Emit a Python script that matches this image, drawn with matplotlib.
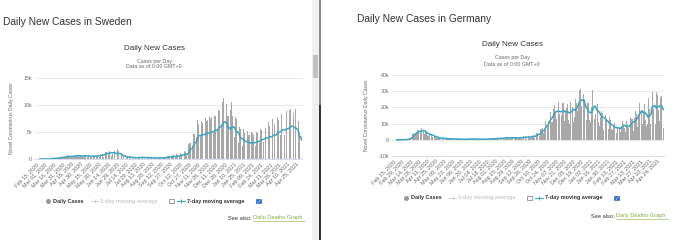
import numpy as np
import pandas as pd
import matplotlib
matplotlib.use("Agg")
import matplotlib.pyplot as plt
from matplotlib.patches import Rectangle
from matplotlib.lines import Line2D

plt.rcParams['font.family'] = ['Liberation Sans', 'DejaVu Sans']

W, H = 700, 240
start_date = "2020-02-15"

# Daily new cases (thousands), one row per week, Sat..Fri, from Feb 15, 2020
sweden_weeks = [
    [0, 0, 0, 0, 0, 0, 0],
    [0, 0, 0, 0, 0, 0, 0],
    [0, 0, 0, 0, 0.01, 0.02, 0.03],
    [0.02, 0.03, 0.05, 0.09, 0.12, 0.15, 0.16],
    [0.1, 0.1, 0.1, 0.14, 0.11, 0.15, 0.19],
    [0.12, 0.16, 0.2, 0.24, 0.3, 0.26, 0.35],
    [0.23, 0.3, 0.29, 0.34, 0.45, 0.5, 0.41],
    [0.33, 0.39, 0.33, 0.38, 0.72, 0.62, 0.51],
    [0.35, 0.45, 0.33, 0.47, 0.6, 0.6, 0.68],
    [0.55, 0.4, 0.4, 0.55, 0.75, 0.8, 0.75],
    [0.5, 0.4, 0.46, 0.62, 0.7, 0.68, 0.68],
    [0.55, 0.35, 0.38, 0.7, 0.73, 0.75, 0.65],
    [0.5, 0.3, 0.42, 0.67, 0.68, 0.55, 0.62],
    [0.45, 0.3, 0.3, 0.6, 0.7, 0.7, 0.62],
    [0.5, 0.3, 0.35, 0.5, 0.75, 0.82, 0.8],
    [0.5, 0.35, 0.4, 0.9, 0.95, 1.05, 0.9],
    [0.6, 0.4, 0.8, 1.2, 1.25, 1.4, 1.35],
    [0.7, 0.5, 1.0, 1.3, 1.5, 1.6, 1.6],
    [0.6, 0.5, 0.9, 1.4, 1.6, 1.5, 1.6],
    [0, 0, 1.0, 1.8, 1.6, 1.4, 1.4],
    [0, 0, 0.6, 1.1, 0.9, 0.8, 0.8],
    [0, 0, 0.4, 0.7, 0.6, 0.5, 0.5],
    [0, 0, 0.3, 0.5, 0.45, 0.4, 0.4],
    [0, 0, 0.25, 0.45, 0.35, 0.3, 0.35],
    [0, 0, 0.25, 0.45, 0.4, 0.35, 0.3],
    [0, 0, 0.3, 0.5, 0.4, 0.4, 0.4],
    [0, 0, 0.25, 0.45, 0.35, 0.35, 0.35],
    [0, 0, 0.2, 0.35, 0.3, 0.3, 0.3],
    [0, 0, 0.15, 0.35, 0.3, 0.25, 0.25],
    [0, 0, 0.2, 0.35, 0.3, 0.3, 0.3],
    [0, 0, 0.25, 0.45, 0.4, 0.35, 0.35],
    [0, 0, 0.35, 0.6, 0.55, 0.5, 0.5],
    [0, 0, 0.45, 0.8, 0.7, 0.6, 0.65],
    [0, 0, 0.55, 0.95, 0.85, 0.75, 0.8],
    [0, 0, 0.7, 1.2, 1.1, 1.0, 0.95],
    [0, 0, 0.9, 1.5, 1.4, 1.3, 1.2],
    [0, 0, 1.5, 2.8, 3.0, 2.8, 2.9],
    [0, 0, 2.5, 4.8, 4.7, 4.5, 4.6],
    [0, 0, 4.0, 6.6, 7.3, 6.5, 5.9],
    [0, 0, 4.2, 7.0, 7.4, 6.7, 6.4],
    [0, 0, 4.4, 7.6, 7.2, 7.0, 7.3],
    [0, 0, 4.6, 7.8, 7.5, 7.4, 7.7],
    [0, 0, 4.8, 8.5, 8.0, 7.8, 8.0],
    [0, 0, 5.5, 9.5, 9.0, 8.8, 9.2],
    [0, 0, 6.5, 10.5, 10.2, 11.3, 9.8],
    [0, 0, 5.5, 10.2, 8.8, 8.0, 8.0],
    [0, 0, 4.5, 9.0, 10.6, 9.5, 8.0],
    [0, 0, 4.0, 8.3, 7.8, 7.5, 7.5],
    [0, 0, 3.0, 6.5, 6.0, 5.6, 5.5],
    [0, 0, 2.5, 5.5, 5.0, 4.8, 5.0],
    [0, 0, 2.3, 5.2, 4.6, 4.4, 4.5],
    [0, 0, 2.3, 5.0, 4.8, 4.6, 4.4],
    [0, 0, 2.5, 5.3, 5.0, 4.8, 4.9],
    [0, 0, 2.9, 6.0, 5.5, 5.3, 5.5],
    [0, 0, 3.2, 6.5, 6.0, 5.8, 5.8],
    [0, 0, 3.3, 6.9, 6.3, 6.2, 6.2],
    [0, 0, 3.6, 7.5, 6.8, 6.6, 6.5],
    [0, 0, 4.0, 8.4, 7.8, 7.5, 7.3],
    [0, 0, 4.5, 8.7, 8.3, 8.1, 8.2],
    [0, 0, 4.5, 8.3, 9.0, 8.8, 8.6],
    [0, 0, 5.0, 9.0, 9.5, 9.2, 9.8],
    [0, 0, 4.8, 8.6, 8.8, 8.4, 9.3],
    [0, 0, 3.8, 7.5, 7.0, 6.0, 4.5],
]
sweden_tail = [0, 0, 0]  # May 1-3, 2021

germany_weeks = [
    [0, 0, 0, 0, 0, 0, 0],
    [0, 0, 0, 0, 0, 0.01, 0.02],
    [0.03, 0.05, 0.07, 0.1, 0.12, 0.15, 0.25],
    [0.2, 0.15, 0.2, 0.35, 0.45, 0.8, 1.4],
    [0.9, 1.0, 1.4, 2.0, 3.5, 4.5, 4.2],
    [3.5, 3.1, 3.9, 4.5, 5.0, 5.8, 6.1],
    [6.0, 4.5, 4.2, 4.9, 6.4, 7.1, 6.2],
    [6.1, 5.4, 3.7, 3.7, 4.9, 5.0, 4.9],
    [3.8, 2.8, 2.5, 2.1, 3.3, 4.5, 3.6],
    [3.1, 1.8, 1.7, 1.8, 2.3, 2.4, 2.3],
    [1.7, 1.0, 1.0, 1.2, 1.3, 1.5, 1.6],
    [0.9, 0.7, 0.7, 0.9, 1.1, 1.3, 1.2],
    [0.9, 0.5, 0.4, 0.7, 0.8, 0.9, 0.6],
    [0.6, 0.5, 0.3, 0.4, 0.8, 0.7, 0.6],
    [0.6, 0.4, 0.3, 0.3, 0.5, 0.6, 0.6],
    [0.3, 0.3, 0.2, 0.3, 0.4, 0.5, 0.4],
    [0.4, 0.3, 0.2, 0.3, 0.3, 0.6, 0.3],
    [0.3, 0.2, 0.2, 0.4, 0.6, 0.8, 0.6],
    [0.6, 0.4, 0.5, 0.5, 0.6, 0.6, 0.5],
    [0.4, 0.3, 0.3, 0.4, 0.5, 0.5, 0.5],
    [0.4, 0.2, 0.3, 0.4, 0.4, 0.4, 0.4],
    [0.4, 0.2, 0.2, 0.4, 0.5, 0.5, 0.5],
    [0.5, 0.3, 0.3, 0.5, 0.6, 0.6, 0.8],
    [0.8, 0.4, 0.4, 0.6, 0.9, 0.9, 0.9],
    [0.9, 0.5, 0.5, 0.8, 0.9, 1.0, 1.1],
    [1.1, 0.6, 0.4, 0.9, 1.2, 1.4, 1.4],
    [1.4, 0.8, 0.6, 1.4, 1.5, 1.7, 1.6],
    [1.6, 0.8, 0.7, 1.3, 1.6, 1.6, 1.5],
    [1.5, 0.6, 0.5, 1.2, 1.6, 1.5, 1.5],
    [1.4, 0.8, 0.6, 1.2, 1.4, 1.7, 1.8],
    [1.6, 0.7, 0.7, 1.5, 2.1, 2.2, 2.3],
    [1.8, 0.9, 0.8, 1.8, 2.0, 2.5, 2.2],
    [1.8, 0.9, 1.2, 2.1, 2.5, 2.6, 2.7],
    [2.8, 1.4, 1.3, 2.6, 4.0, 4.1, 4.5],
    [3.9, 2.4, 2.5, 4.0, 6.5, 6.6, 7.3],
    [7.1, 4.2, 4.3, 6.9, 10.0, 11.3, 11.0],
    [11.1, 8.7, 6.0, 11.4, 15.0, 16.8, 17.4],
    [14.1, 10.9, 11.1, 15.5, 19.0, 24.0, 21.5],
    [17.0, 12.6, 13.0, 15.3, 20.6, 23.5, 21.3],
    [15.8, 13.3, 11.1, 15.5, 23.2, 22.6, 23.0],
    [14.9, 11.6, 12.8, 17.2, 19.5, 22.2, 21.9],
    [13.5, 12.1, 10.0, 16.3, 23.4, 24.0, 22.8],
    [20.5, 13.9, 11.2, 14.0, 21.0, 25.0, 28.5],
    [23.0, 18.0, 16.4, 21.5, 27.7, 30.5, 31.2],
    [24.0, 21.0, 16.0, 19.5, 28.0, 32.0, 22.0],
    [14.5, 10.0, 12.0, 19.5, 22.5, 22.9, 20.0],
    [12.5, 9.0, 11.0, 20.0, 26.0, 31.0, 24.0],
    [20.0, 13.0, 12.5, 16.0, 20.0, 22.4, 22.4],
    [18.5, 10.8, 8.6, 12.0, 14.0, 19.0, 17.8],
    [16.4, 11.0, 6.3, 11.3, 13.5, 15.6, 13.5],
    [12.8, 9.0, 6.0, 6.5, 9.8, 14.2, 12.5],
    [9.9, 6.4, 4.5, 6.1, 8.0, 10.2, 10.1],
    [8.4, 6.5, 4.4, 3.9, 7.6, 10.2, 9.1],
    [8.2, 6.3, 4.6, 7.4, 10.3, 11.8, 10.6],
    [9.8, 7.3, 4.8, 5.0, 9.0, 11.9, 10.0],
    [9.6, 7.0, 5.0, 6.9, 14.3, 14.4, 12.8],
    [12.7, 10.8, 5.5, 8.0, 13.4, 17.5, 17.5],
    [16.0, 13.7, 7.7, 15.8, 18.0, 22.6, 21.6],
    [20.5, 17.2, 9.9, 9.6, 17.0, 24.3, 21.9],
    [18.1, 12.2, 8.5, 6.9, 9.7, 20.4, 25.5],
    [19.1, 14.9, 10.0, 13.2, 31.5, 29.3, 25.8],
    [19.2, 19.2, 10.0, 10.0, 24.9, 29.5, 27.5],
    [23.4, 18.5, 11.0, 11.5, 26.5, 28.0, 27.0],
]
germany_tail = [19.3, 11.0, 7.5]  # May 1-3, 2021

sweden_yticks = [0, 5000, 10000, 15000]
sweden_ylabels = ["0", "5k", "10k", "15k"]
germany_yticks = [-10000, 0, 10000, 20000, 30000, 40000]
germany_ylabels = ["-10k", "0", "10k", "20k", "30k", "40k"]

BAR = '#a8a8a8'
AVG = '#3aa5c6'
TXT = '#333333'
SUB = '#666666'


def fx(x):
    return x / W


def fy(y):
    return 1 - y / H


def daily(weeks, tail):
    vals = [v for wk in weeks for v in wk] + tail
    return pd.Series(np.array(vals) * 1000,
                     index=pd.date_range(start_date, periods=len(vals)))


def panel(fig, box, s, yticks, ylabels, step, nticks, ylab_x):
    x0, x1, ytop, ybot = box
    ax = fig.add_axes([fx(x0), fy(ybot), fx(x1 - x0), (ybot - ytop) / H])
    days = np.arange(len(s))
    ax.bar(days, s.values, width=0.85, color=BAR, linewidth=0, zorder=2)
    avg = s.rolling(7).mean()
    ax.plot(days, avg.values, color=AVG, lw=1.1, zorder=3)
    ax.set_xlim(-1.5, len(s))
    ax.set_ylim(yticks[0], yticks[-1])
    ax.set_yticks(yticks)
    ax.set_yticklabels(ylabels, fontsize=3.8, color=SUB)
    ax.grid(axis='y', color='#e6e6e6', lw=0.6, zorder=0)
    ticks = np.arange(nticks) * step
    labels = [d.strftime('%b %d, %Y') for d in s.index[ticks]]
    ax.set_xticks(ticks)
    ax.set_xticklabels(labels, rotation=45, ha='right', va='top',
                       rotation_mode='anchor', fontsize=3.9, color=SUB)
    ax.tick_params(length=0, pad=2)
    for sp in ['top', 'right', 'left']:
        ax.spines[sp].set_visible(False)
    ax.spines['bottom'].set_color('#ccd6eb')
    ax.spines['bottom'].set_linewidth(0.6)
    ax.set_facecolor('none')
    fig.text(fx(ylab_x), fy((ytop + ybot) / 2), 'Novel Coronavirus Daily Cases',
             rotation=90, ha='center', va='center', fontsize=3.7, color=SUB)
    return ax


def header(fig, title, tx, ty, cx, cy):
    fig.text(fx(tx), fy(ty), title, fontsize=7.4, color=TXT, ha='left', va='center')
    fig.text(fx(cx), fy(cy), 'Daily New Cases', fontsize=5.8, color=TXT,
             ha='center', va='center')
    fig.text(fx(cx), fy(cy + 13), 'Cases per Day', fontsize=3.8, color=SUB,
             ha='center', va='center')
    fig.text(fx(cx), fy(cy + 19), 'Data as of 0:00 GMT+0', fontsize=3.8, color=SUB,
             ha='center', va='center')


def legend(fig, x, y, seex, seey):
    fig.add_artist(Line2D([fx(x)], [fy(y)], marker='o', ms=2.6, color='#999999',
                          transform=fig.transFigure))
    fig.text(fx(x + 5), fy(y), 'Daily Cases', fontsize=4.0, weight='bold',
             color=TXT, ha='left', va='center')
    fig.add_artist(Line2D([fx(x + 43), fx(x + 50)], [fy(y), fy(y)], color='#cccccc',
                          lw=0.6, transform=fig.transFigure))
    fig.add_artist(Line2D([fx(x + 46.5)], [fy(y)], marker='+', ms=2.5, mew=0.6,
                          color='#cccccc', transform=fig.transFigure))
    fig.text(fx(x + 52), fy(y), '3-day moving average', fontsize=4.0, weight='bold',
             color='#cccccc', ha='left', va='center')
    fig.add_artist(Rectangle((fx(x + 121), fy(y + 2.3)), fx(4.5), 4.5 / H,
                             facecolor='white', edgecolor='#777777', lw=0.5,
                             transform=fig.transFigure))
    fig.add_artist(Line2D([fx(x + 129), fx(x + 137)], [fy(y), fy(y)], color=AVG,
                          lw=0.8, transform=fig.transFigure))
    fig.add_artist(Line2D([fx(x + 133)], [fy(y)], marker='+', ms=2.8, mew=0.7,
                          color=AVG, transform=fig.transFigure))
    fig.text(fx(x + 139), fy(y), '7-day moving average', fontsize=4.0, weight='bold',
             color=TXT, ha='left', va='center')
    fig.add_artist(Rectangle((fx(x + 208), fy(y + 2.3)), fx(4.5), 4.5 / H,
                             facecolor='#1b6ed8', edgecolor='#1b5fb8', lw=0.4,
                             transform=fig.transFigure))
    fig.text(fx(x + 210.3), fy(y - 0.2), '✓', fontsize=3.6, color='white',
             ha='center', va='center', family=['DejaVu Sans'])
    fig.text(fx(seex), fy(seey), 'See also: ', fontsize=4.1, color=TXT,
             ha='right', va='center')
    t = fig.text(fx(seex), fy(seey), 'Daily Deaths Graph', fontsize=4.1,
                 color='#86ad45', ha='left', va='center')
    fig.add_artist(Line2D([fx(seex), fx(seex + 52)], [fy(seey + 2.6), fy(seey + 2.6)],
                          color='#86ad45', lw=0.4, transform=fig.transFigure))
    return t


sweden = daily(sweden_weeks, sweden_tail)
germany = daily(germany_weeks, germany_tail)

fig = plt.figure(figsize=(7, 2.4), dpi=100)
fig.patch.set_facecolor('white')

# Sweden panel
header(fig, 'Daily New Cases in Sweden', 3, 22, 154, 48)
panel(fig, (35, 302, 78, 159), sweden, sweden_yticks, sweden_ylabels, 15, 30, 12)
legend(fig, 48, 201, 253, 218)

# Germany panel
header(fig, 'Daily New Cases in Germany', 357, 19, 512, 45)
panel(fig, (392, 664, 75, 156), germany, germany_yticks, germany_ylabels, 14, 32, 366)
legend(fig, 406, 198, 616, 216)

# window scrollbar and divider
fig.add_artist(Rectangle((fx(312), 0), fx(7), 1, facecolor='#f1f1f1', lw=0,
                         transform=fig.transFigure))
fig.add_artist(Rectangle((fx(313), fy(78)), fx(5), 23 / H, facecolor='#c1c1c1', lw=0,
                         transform=fig.transFigure))
fig.add_artist(Rectangle((fx(319), fy(105)), fx(2), 105 / H, facecolor='#8c8c8c', lw=0,
                         transform=fig.transFigure))
fig.add_artist(Rectangle((fx(319), 0), fx(2), fy(105), facecolor='#333333', lw=0,
                         transform=fig.transFigure))

fig.savefig('out.png', dpi=100)
